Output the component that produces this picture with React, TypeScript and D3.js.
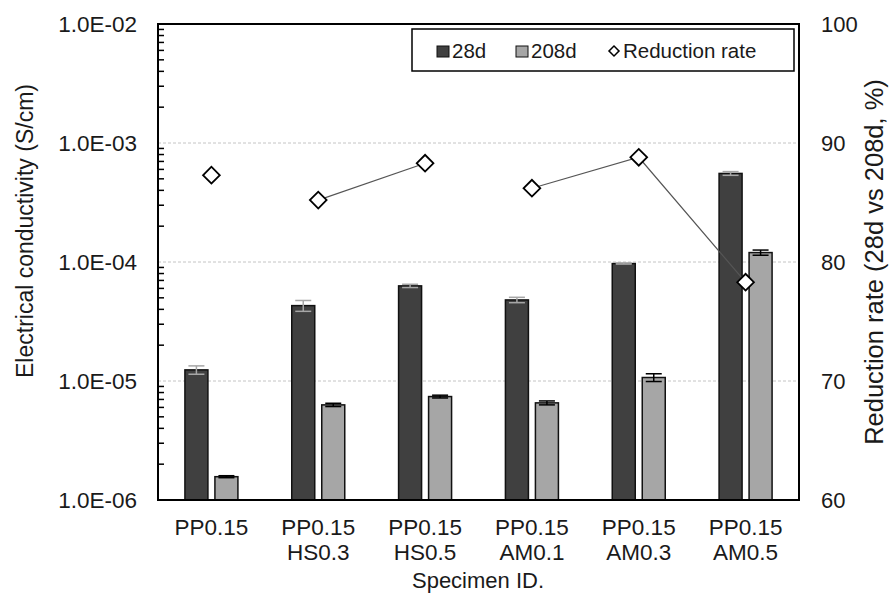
import React, { useEffect, useRef } from "react";
import * as d3 from "d3";

const categories = ["PP0.15", "PP0.15\nHS0.3", "PP0.15\nHS0.5", "PP0.15\nAM0.1", "PP0.15\nAM0.3", "PP0.15\nAM0.5"];
const cond28 = [1.24e-5, 4.3e-5, 6.3e-5, 4.8e-5, 9.7e-5, 5.55e-4];
const err28 = [0.1e-5, 0.45e-5, 0.2e-5, 0.25e-5, 0.1e-5, 0.2e-4];
const cond208 = [1.57e-6, 6.3e-6, 7.4e-6, 6.55e-6, 1.07e-5, 1.2e-4];
const err208 = [0.03e-6, 0.2e-6, 0.2e-6, 0.25e-6, 0.08e-5, 0.06e-4];
const reductionRate = [87.3, 85.2, 88.3, 86.2, 88.8, 78.3];
const rateGroup = ["PP", "HS", "HS", "AM", "AM", "AM"];
const leftTicks = [1e-6, 1e-5, 1e-4, 1e-3, 1e-2];
const rightTicks = [60, 70, 80, 90, 100];

const FONT = "'Liberation Sans', Arial, sans-serif";

const App = () => {
  const container = useRef<SVGSVGElement>(null);

  useEffect(() => {
    const svg = d3.select(container.current);
    svg.selectAll("*").remove();

    const left = 158, right = 799, top = 24, bottom = 500;

    const x = d3.scaleBand<string>().domain(categories).range([left, right]).padding(0);
    const y = d3.scaleLog().domain([1e-6, 1e-2]).range([bottom, top]);
    const y2 = d3.scaleLinear().domain([60, 100]).range([bottom, top]);
    const cx = (i: number) => (x(categories[i]) as number) + x.bandwidth() / 2;
    const barW = 23, off = 15;

    // gridlines
    svg.append("g")
      .selectAll("line")
      .data(leftTicks.slice(1, 4))
      .enter()
      .append("line")
      .attr("x1", left).attr("x2", right)
      .attr("y1", d => y(d)).attr("y2", d => y(d))
      .attr("stroke", "#c4c4c4")
      .attr("stroke-width", 1)
      .attr("stroke-dasharray", "3,2");

    // minor ticks
    const minors: number[] = [];
    for (let e = -6; e < -2; e++) for (let m = 2; m <= 9; m++) minors.push(m * Math.pow(10, e));
    svg.append("g")
      .selectAll("line")
      .data(minors)
      .enter()
      .append("line")
      .attr("x1", left).attr("x2", left + 6)
      .attr("y1", d => y(d)).attr("y2", d => y(d))
      .attr("stroke", "#000")
      .attr("stroke-width", 1.5);

    // bars
    const series = [
      { vals: cond28, errs: err28, dx: -off, fill: "#404040", errColor: "#a6a6a6" },
      { vals: cond208, errs: err208, dx: off, fill: "#a6a6a6", errColor: "#000" },
    ];
    series.forEach(s => {
      const g = svg.append("g");
      g.selectAll("rect")
        .data(s.vals)
        .enter()
        .append("rect")
        .attr("x", (d, i) => cx(i) + s.dx - barW / 2)
        .attr("y", d => y(d))
        .attr("width", barW)
        .attr("height", d => bottom - y(d))
        .attr("fill", s.fill)
        .attr("stroke", "#111")
        .attr("stroke-width", 1.5);
      s.vals.forEach((v, i) => {
        const bx = cx(i) + s.dx;
        const y1 = y(v + s.errs[i]), y0 = y(v - s.errs[i]);
        g.append("line").attr("x1", bx).attr("x2", bx).attr("y1", y1).attr("y2", y0)
          .attr("stroke", s.errColor).attr("stroke-width", 1.5);
        [y1, y0].forEach(yy => {
          g.append("line").attr("x1", bx - 8).attr("x2", bx + 8).attr("y1", yy).attr("y2", yy)
            .attr("stroke", s.errColor).attr("stroke-width", 1.5);
        });
      });
    });

    // reduction rate lines, one per specimen family
    const groups = Array.from(new Set(rateGroup));
    groups.forEach(gname => {
      const idx = rateGroup.map((g, i) => (g === gname ? i : -1)).filter(i => i >= 0);
      if (idx.length < 2) return;
      const pts = idx.map(i => [cx(i), y2(reductionRate[i])] as [number, number]);
      svg.append("path")
        .attr("d", d3.line()(pts))
        .attr("fill", "none")
        .attr("stroke", "#555")
        .attr("stroke-width", 1.2);
    });

    const diamond = d3.symbol().type(d3.symbolSquare).size(140);
    svg.append("g")
      .selectAll("path")
      .data(reductionRate)
      .enter()
      .append("path")
      .attr("d", diamond)
      .attr("transform", (d, i) => `translate(${cx(i)},${y2(d)}) rotate(45)`)
      .attr("fill", "#fff")
      .attr("stroke", "#000")
      .attr("stroke-width", 1.8);

    // frame
    svg.append("rect")
      .attr("x", left).attr("y", top)
      .attr("width", right - left).attr("height", bottom - top)
      .attr("fill", "none").attr("stroke", "#000").attr("stroke-width", 2);

    // left tick labels
    svg.append("g")
      .attr("font-size", 22.5)
      .selectAll("text")
      .data(leftTicks)
      .enter()
      .append("text")
      .attr("x", 137)
      .attr("y", d => y(d))
      .attr("dy", "0.35em")
      .attr("text-anchor", "end")
      .text(d => d.toExponential(1).replace(/e([+-])(\d)$/, "E$10$2").replace("e", "E"));

    // right tick labels
    svg.append("g")
      .attr("font-size", 22)
      .selectAll("text")
      .data(rightTicks)
      .enter()
      .append("text")
      .attr("x", 821)
      .attr("y", d => y2(d))
      .attr("dy", "0.35em")
      .text(d => d);

    // category labels
    categories.forEach((c, i) => {
      const t = svg.append("text").attr("text-anchor", "middle").attr("font-size", 22.5);
      c.split("\n").forEach((ln, k) => {
        t.append("tspan").attr("x", cx(i)).attr("y", 535 + k * 25).text(ln);
      });
    });

    // axis titles
    svg.append("text")
      .attr("x", 478).attr("y", 588)
      .attr("text-anchor", "middle")
      .attr("font-size", 22)
      .text("Specimen ID.");
    svg.append("text")
      .attr("transform", "translate(33,231) rotate(-90)")
      .attr("text-anchor", "middle")
      .attr("font-size", 23)
      .text("Electrical conductivity (S/cm)");
    svg.append("text")
      .attr("transform", "translate(883,262) rotate(-90)")
      .attr("text-anchor", "middle")
      .attr("font-size", 25.5)
      .text("Reduction rate (28d vs 208d, %)");

    // legend
    const lg = svg.append("g").attr("font-size", 20.5);
    lg.append("rect")
      .attr("x", 412).attr("y", 29).attr("width", 382).attr("height", 42)
      .attr("fill", "#fff").attr("stroke", "#000").attr("stroke-width", 1.5);
    const items = [
      { label: "28d", kind: "bar", fill: "#404040", x: 437, tx: 452 },
      { label: "208d", kind: "bar", fill: "#a6a6a6", x: 516, tx: 531 },
      { label: "Reduction rate", kind: "marker", fill: "#fff", x: 608, tx: 623 },
    ];
    items.forEach(it => {
      if (it.kind === "bar") {
        lg.append("rect").attr("x", it.x).attr("y", 46).attr("width", 12).attr("height", 11)
          .attr("fill", it.fill).attr("stroke", "#111").attr("stroke-width", 1);
      } else {
        lg.append("path").attr("d", d3.symbol().type(d3.symbolSquare).size(50)())
          .attr("transform", `translate(${it.x + 6},51) rotate(45)`)
          .attr("fill", "#fff").attr("stroke", "#000").attr("stroke-width", 1.5);
      }
      lg.append("text").attr("x", it.tx).attr("y", 57.5).text(it.label);
    });
  }, []);

  return (
    <svg
      ref={container}
      width={891}
      height={598}
      style={{ position: "absolute", left: 0, top: 0, background: "#fff" }}
      fontFamily={FONT}
      fontSize={20}
      fill="#1a1a1a"
    />
  );
};

export default App;
